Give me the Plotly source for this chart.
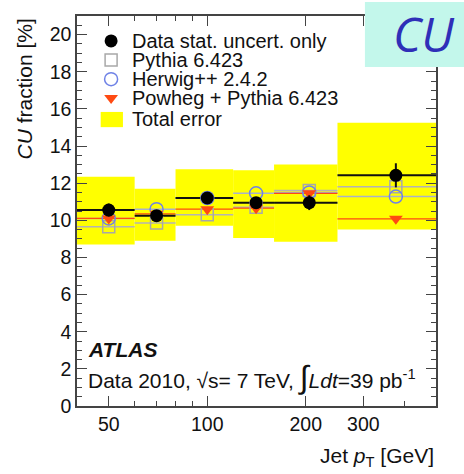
import plotly.graph_objects as go

# Jet pT bins [GeV]
bin_lo = [40, 60, 80, 120, 160, 250]
bin_hi = [60, 80, 120, 160, 250, 500]
bin_x = [50, 70, 100, 141, 205, 377]

# CU fraction [%]
data_val = [10.55, 10.25, 11.2, 10.95, 10.95, 12.42]
data_err = [0.35, 0.3, 0.3, 0.3, 0.4, 0.65]
tot_lo = [8.7, 8.9, 9.7, 9.05, 8.85, 9.5]
tot_hi = [12.35, 11.7, 12.75, 12.7, 13.0, 15.25]
pythia = [9.65, 9.85, 10.3, 10.7, 11.6, 11.8]
herwig = [10.1, 10.6, 11.2, 11.45, 11.5, 11.28]
powheg = [10.1, 10.35, 10.6, 10.65, 11.45, 10.08]

x_ticks = [50, 100, 200, 300]
x_minor = [40, 60, 70, 80, 90, 400, 500]

legend_labels = ["Data stat. uncert. only", "Pythia 6.423", "Herwig++ 2.4.2",
                 "Powheg + Pythia 6.423", "Total error"]

FONT = "Liberation Sans, Arial, sans-serif"
YELLOW = "#ffff00"
C_PYT = "#a8a8a8"
C_HER = "#6f82e6"
C_POW = "#ff4a12"

fig = go.Figure()

# total-error bands
for lo, hi, b, t in zip(bin_lo, bin_hi, tot_lo, tot_hi):
    fig.add_trace(go.Scatter(x=[lo, hi, hi, lo, lo], y=[b, b, t, t, b], mode="lines",
                             fill="toself", fillcolor=YELLOW, line=dict(width=0),
                             showlegend=False, hoverinfo="skip"))

def bin_lines(vals, color, width):
    xs, ys = [], []
    for lo, hi, v in zip(bin_lo, bin_hi, vals):
        xs += [lo, hi, None]
        ys += [v, v, None]
    fig.add_trace(go.Scatter(x=xs, y=ys, mode="lines", line=dict(color=color, width=width),
                             showlegend=False, hoverinfo="skip"))

bin_lines(pythia, "#b4b4b4", 1.5)
bin_lines(herwig, "#a9b2c9", 1.5)
bin_lines(powheg, C_POW, 1.2)
bin_lines(data_val, "#111111", 2)

fig.add_trace(go.Scatter(x=bin_x, y=pythia, mode="markers", showlegend=False,
                         marker=dict(symbol="square-open", size=12, color=C_PYT, line=dict(width=1.5))))
fig.add_trace(go.Scatter(x=bin_x, y=herwig, mode="markers", showlegend=False,
                         marker=dict(symbol="circle-open", size=13, color=C_HER, line=dict(width=1.5))))
fig.add_trace(go.Scatter(x=bin_x, y=powheg, mode="markers", showlegend=False,
                         marker=dict(symbol="triangle-down", size=12, color=C_POW)))
fig.add_trace(go.Scatter(x=bin_x, y=data_val, mode="markers", showlegend=False,
                         error_y=dict(type="data", array=data_err, color="#111111", thickness=2, width=0),
                         marker=dict(symbol="circle", size=13, color="#000000")))

# legend drawn on an overlay axis in plot-fraction units
leg_x = 0.095
leg_y = [0.936, 0.887, 0.838, 0.790]
leg_sym = [dict(symbol="circle", size=13, color="#000000"),
           dict(symbol="square-open", size=12, color=C_PYT, line=dict(width=1.5)),
           dict(symbol="circle-open", size=13, color=C_HER, line=dict(width=1.5)),
           dict(symbol="triangle-down", size=12, color=C_POW)]
for yy, m in zip(leg_y, leg_sym):
    fig.add_trace(go.Scatter(x=[leg_x], y=[yy], mode="markers", marker=m, xaxis="x2", yaxis="y2",
                             showlegend=False, hoverinfo="skip"))
fig.add_trace(go.Scatter(x=[0.066, 0.128, 0.128, 0.066, 0.066], y=[0.715, 0.715, 0.754, 0.754, 0.715],
                         mode="lines", fill="toself", fillcolor=YELLOW, line=dict(width=0),
                         xaxis="x2", yaxis="y2", showlegend=False, hoverinfo="skip"))

annotations = []
for yy, txt in zip(leg_y + [0.736], legend_labels):
    annotations.append(dict(x=0.150, y=yy, xref="paper", yref="paper", text=txt, showarrow=False,
                            xanchor="left", yanchor="middle", borderpad=0,
                            font=dict(family=FONT, size=20, color="#111")))

annotations += [
    dict(x=0.025, y=0.145, xref="paper", yref="paper", text="<b><i>ATLAS</i></b>", showarrow=False,
         xanchor="left", yanchor="middle", font=dict(family=FONT, size=21, color="#111")),
    dict(x=0.025, y=0.075, xref="paper", yref="paper",
         text="Data 2010, √s= 7 TeV, <span style='font-size:32px'>∫</span><i>Ldt</i>=39 pb<sup>-1</sup>",
         showarrow=False, xanchor="left", yanchor="middle", font=dict(family=FONT, size=21, color="#111")),
    dict(x=1.0, y=-0.13, xref="paper", yref="paper", text="Jet <i>p</i><sub>T</sub> [GeV]", showarrow=False,
         xanchor="right", yanchor="middle", font=dict(family=FONT, size=21, color="#111")),
    dict(x=-0.145, y=1.0, xref="paper", yref="paper", text="<i>CU</i> fraction [%]", showarrow=False,
         textangle=-90, xanchor="center", yanchor="top", font=dict(family=FONT, size=21, color="#111")),
    dict(x=0.966, y=0.954, xref="paper", yref="paper", text="<i>CU</i>", showarrow=False,
         xanchor="center", yanchor="middle", borderpad=0,
         font=dict(family="Open Sans, sans-serif", size=48, color="#2f2fb8")),
]

fig.add_shape(type="rect", xref="paper", yref="paper", x0=0.802, x1=1.08, y0=0.869, y1=1.036,
              fillcolor="#c3f7eb", line=dict(width=0), layer="above")

axis_common = dict(showline=True, linecolor="#444", linewidth=1.5, mirror="ticks", ticks="inside",
                   tickcolor="#444", tickwidth=1.2, showgrid=False, zeroline=False,
                   tickfont=dict(family=FONT, size=19.5, color="#111"))

fig.update_layout(
    width=464, height=474,
    margin=dict(l=77, r=28, t=16, b=68),
    plot_bgcolor="white", paper_bgcolor="white",
    showlegend=False,
    annotations=annotations,
    xaxis=dict(type="log", range=[1.602, 2.699], tickmode="array", tickvals=x_ticks,
               ticktext=[str(v) for v in x_ticks], ticklen=10,
               minor=dict(tickmode="array", tickvals=x_minor, ticks="inside", ticklen=5,
                          tickcolor="#444", showgrid=False),
               **axis_common),
    yaxis=dict(range=[0, 21], tickmode="linear", tick0=0, dtick=2, ticklen=10,
               minor=dict(dtick=0.5, ticks="inside", ticklen=5, tickcolor="#444", showgrid=False),
               **axis_common),
    xaxis2=dict(overlaying="x", range=[0, 1], visible=False),
    yaxis2=dict(overlaying="y", range=[0, 1], visible=False),
)

fig.write_html("out.html")
